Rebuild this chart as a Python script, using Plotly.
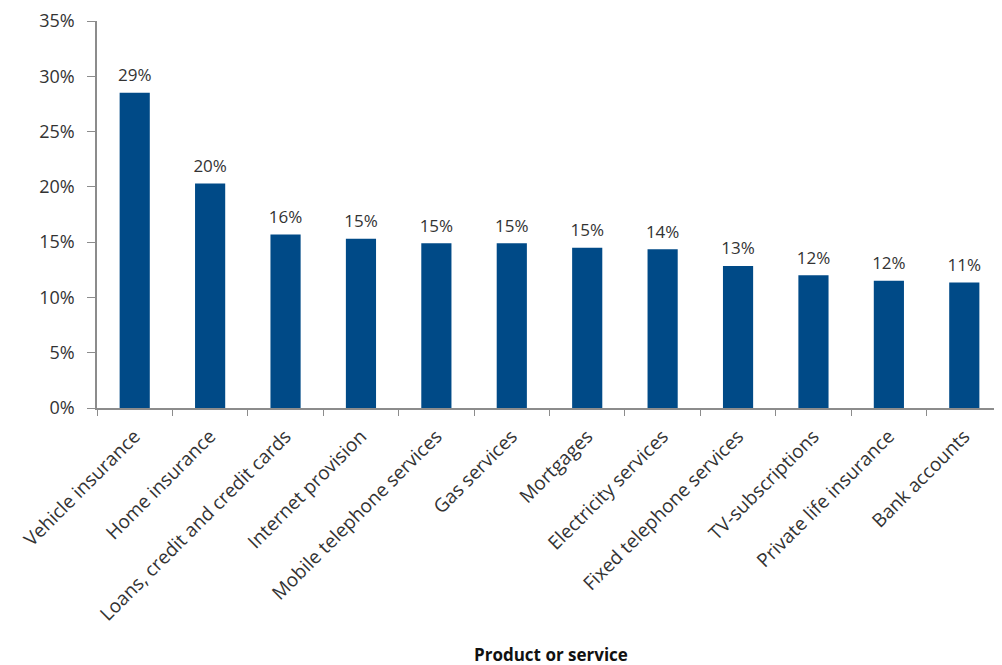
import plotly.graph_objects as go

categories = ["Vehicle insurance", "Home insurance", "Loans, credit and credit cards",
              "Internet provision", "Mobile telephone services", "Gas services",
              "Mortgages", "Electricity services", "Fixed telephone services",
              "TV-subscriptions", "Private life insurance", "Bank accounts"]
values = [28.5, 20.3, 15.7, 15.3, 14.9, 14.9, 14.5, 14.35, 12.85, 12.0, 11.5, 11.35]
labels = ["29%", "20%", "16%", "15%", "15%", "15%", "15%", "14%", "13%", "12%", "12%", "11%"]
y_ticks = [0, 5, 10, 15, 20, 25, 30, 35]
y_ticktext = [f"{v}%" for v in y_ticks]

FONT = "Open Sans"
fig = go.Figure()
fig.add_trace(go.Bar(
    x=categories, y=values,
    marker=dict(color="#004A87", line=dict(width=0)),
    hoverinfo="skip",
))
# value labels above the bars
fig.add_trace(go.Scatter(
    x=categories, y=values, text=labels, mode="markers+text",
    textposition="top center",
    marker=dict(size=10, opacity=0),
    textfont=dict(family=FONT, size=17, color="#333333"),
    cliponaxis=False, hoverinfo="skip",
))
# the page body adds an 8px offset; figure is sized to compensate
fig.update_layout(
    width=994, height=657,
    margin=dict(l=89, r=0, t=13, b=257),
    paper_bgcolor="white", plot_bgcolor="white",
    bargap=0.6, showlegend=False,
    font=dict(family=FONT, size=16, color="#333333"),
)
fig.update_xaxes(
    range=[-0.5, len(categories) - 0.5],
    showline=True, linecolor="#8c8c8c", linewidth=1.5,
    ticks="outside", ticklen=6, tickcolor="#8c8c8c", tickson="boundaries",
    tickangle=-45, tickfont=dict(family=FONT, size=19, color="#333333"),
    ticklabelstandoff=8,
    showgrid=False, automargin=False,
)
fig.update_yaxes(
    range=[0, 35], tickvals=y_ticks, ticktext=y_ticktext,
    showline=True, linecolor="#8c8c8c", linewidth=1.5,
    ticks="outside", ticklen=8, tickcolor="#8c8c8c",
    ticklabelstandoff=9,
    tickfont=dict(family=FONT, size=18, color="#333333"),
    showgrid=False, zeroline=False, automargin=False,
)
fig.add_annotation(
    text="<b>Product or service</b>", xref="paper", yref="paper",
    x=0.502, y=-(654 - 408) / 387, xanchor="center", yanchor="middle",
    showarrow=False, font=dict(family=FONT, size=17, color="#111111"),
)
fig.write_html("out.html")
